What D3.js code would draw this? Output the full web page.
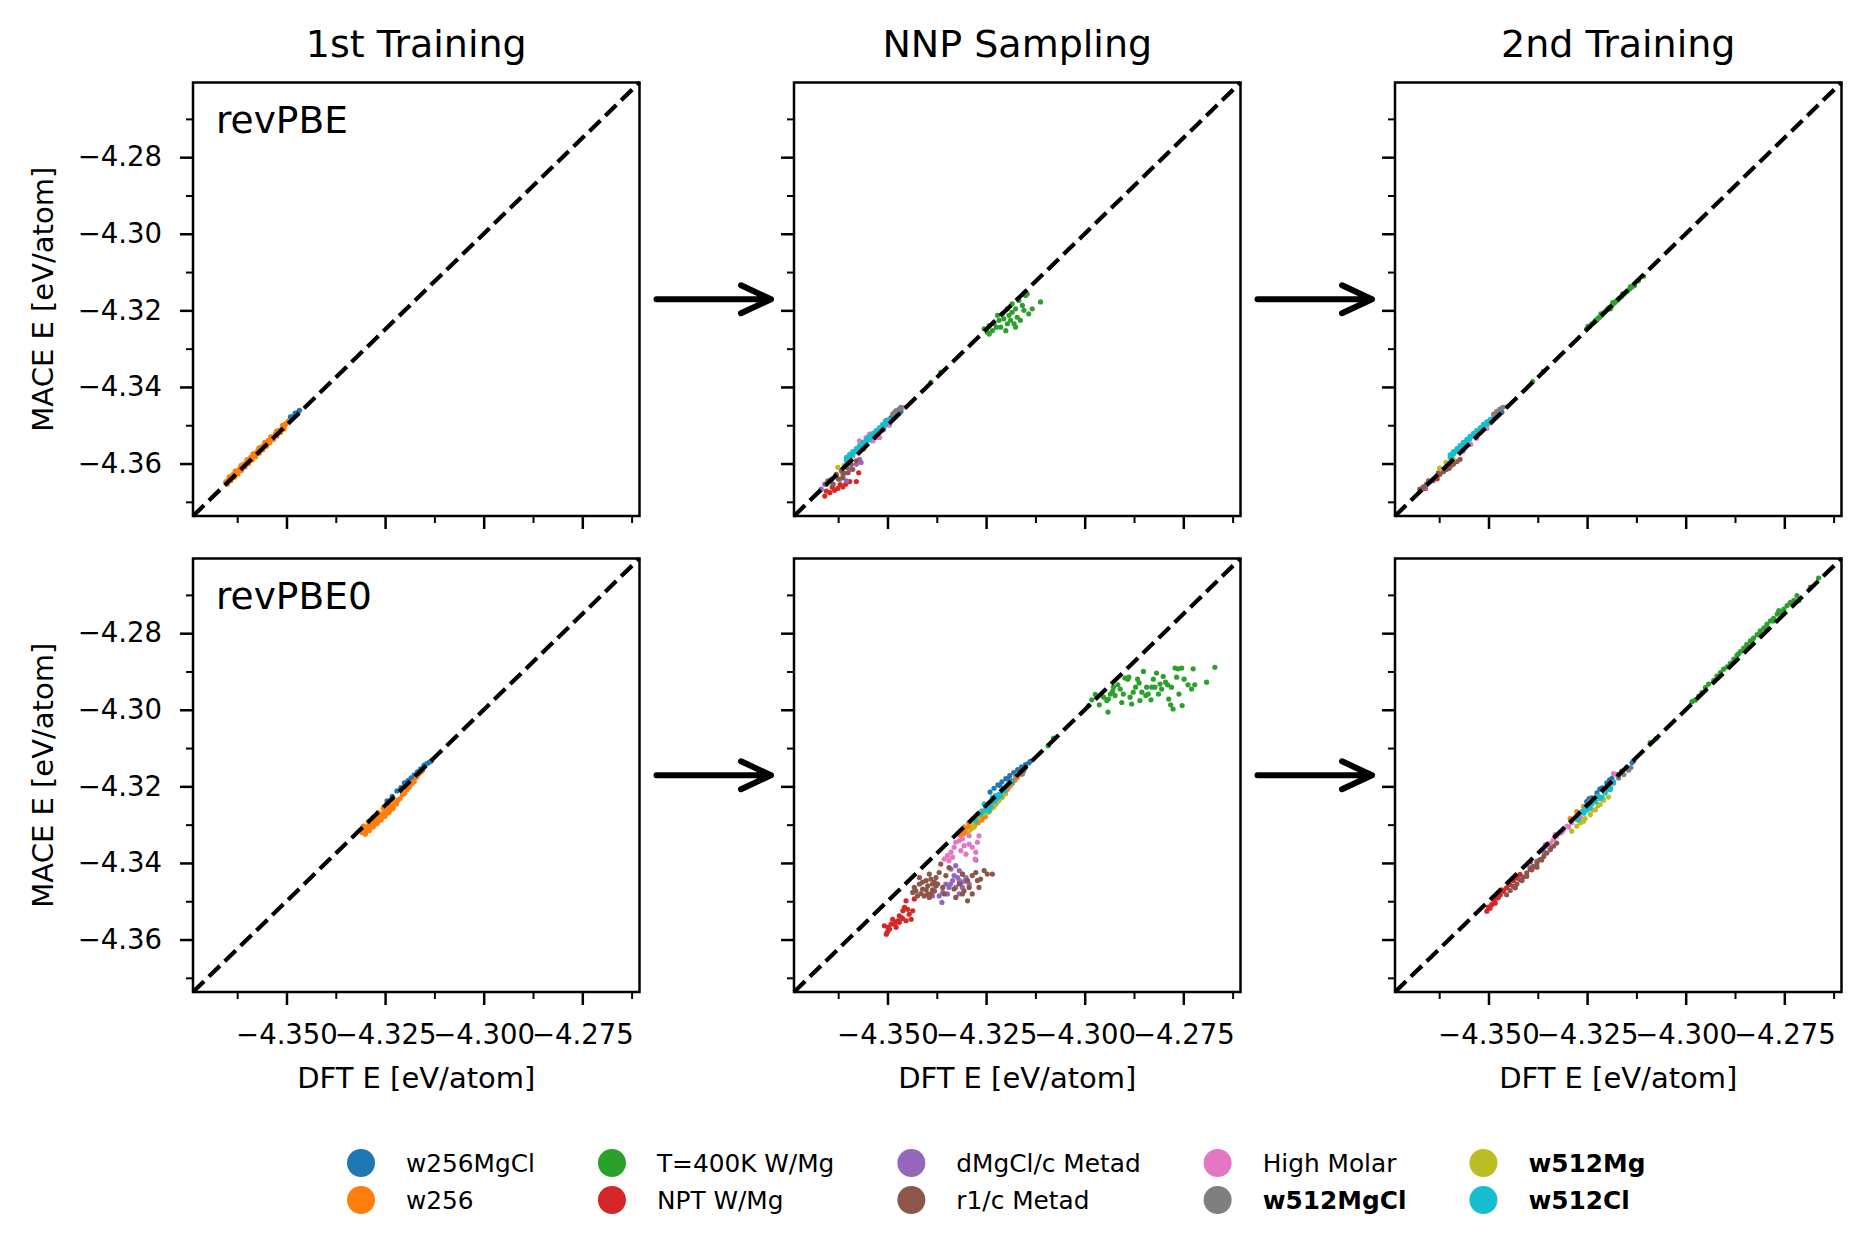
<!DOCTYPE html>
<html>
<head>
<meta charset="utf-8">
<script src="https://cdn.jsdelivr.net/npm/d3@7"></script>
<style>
  body { margin: 0; background: #fff; }
  text { font-family: "DejaVu Sans", sans-serif; fill: #000; }
</style>
</head>
<body>
<svg id="fig" width="1870" height="1257"></svg>
<script>
// axis limits / ticks (same on x and y for every panel)
const lim = [-4.3737, -4.2605]
const yTicks = [-4.36, -4.34, -4.32, -4.30, -4.28]
const yMinor = [-4.37, -4.35, -4.33, -4.31, -4.29, -4.27]
const xTicks = [-4.350, -4.325, -4.300, -4.275]
const xMinor = [-4.3625, -4.3375, -4.3125, -4.2875, -4.2625]

const colTitles = ['1st Training', 'NNP Sampling', '2nd Training']
const rowLabels = ['revPBE', 'revPBE0']
const xLabel = 'DFT E [eV/atom]'
const yLabel = 'MACE E [eV/atom]'

const seriesNames = ['w256MgCl', 'w256', 'T=400K W/Mg', 'NPT W/Mg', 'dMgCl/c Metad', 'r1/c Metad', 'High Molar', 'w512MgCl', 'w512Mg', 'w512Cl']
const seriesColors = ['#1f77b4', '#ff7f0e', '#2ca02c', '#d62728', '#9467bd', '#8c564b', '#e377c2', '#7f7f7f', '#bcbd22', '#17becf']
const seriesBold = [false, false, false, false, false, false, false, true, true, true]

// ---- revPBE, 1st training ----
const pbe1Blue = [[-4.3600,-4.3598],[-4.3580,-4.3577],[-4.3560,-4.3556],[-4.3540,-4.3536],[-4.3520,-4.3515],[-4.3505,-4.3499],[-4.3495,-4.3489],[-4.3488,-4.3481],[-4.3482,-4.3476],[-4.3476,-4.3471],[-4.3470,-4.3465],[-4.3467,-4.3461],[-4.3490,-4.3478],[-4.3478,-4.3468]]
const pbe1Orange = [[-4.3654,-4.3648],[-4.3648,-4.3644],[-4.3645,-4.3637],[-4.3640,-4.3636],[-4.3636,-4.3629],[-4.3632,-4.3628],[-4.3627,-4.3620],[-4.3623,-4.3619],[-4.3618,-4.3611],[-4.3614,-4.3610],[-4.3609,-4.3602],[-4.3605,-4.3601],[-4.3600,-4.3593],[-4.3596,-4.3593],[-4.3591,-4.3584],[-4.3587,-4.3584],[-4.3582,-4.3575],[-4.3578,-4.3575],[-4.3573,-4.3566],[-4.3569,-4.3566],[-4.3564,-4.3557],[-4.3560,-4.3557],[-4.3555,-4.3548],[-4.3551,-4.3548],[-4.3546,-4.3540],[-4.3542,-4.3539],[-4.3537,-4.3531],[-4.3533,-4.3530],[-4.3528,-4.3522],[-4.3524,-4.3521],[-4.3519,-4.3514],[-4.3515,-4.3512],[-4.3510,-4.3505],[-4.3506,-4.3503],[-4.3501,-4.3496],[-4.3496,-4.3490],
  [-4.3650,-4.3654],[-4.3641,-4.3645],[-4.3632,-4.3636],[-4.3623,-4.3627],[-4.3614,-4.3618],[-4.3605,-4.3609],[-4.3596,-4.3600],[-4.3587,-4.3591],[-4.3578,-4.3582],[-4.3569,-4.3573],[-4.3560,-4.3564],[-4.3551,-4.3555],[-4.3542,-4.3546],[-4.3533,-4.3537],[-4.3524,-4.3528],[-4.3515,-4.3519],[-4.3506,-4.3510],
  [-4.3645,-4.3635],[-4.3630,-4.3620],[-4.3615,-4.3605],[-4.3600,-4.3590],[-4.3585,-4.3575],[-4.3570,-4.3560],[-4.3555,-4.3545],[-4.3540,-4.3530],[-4.3525,-4.3515],[-4.3510,-4.3500]]

// ---- revPBE0, 1st training ----
const pbe01Blue = [[-4.3245,-4.3238],[-4.3232,-4.3226],[-4.3220,-4.3212],[-4.3210,-4.3203],[-4.3201,-4.3191],[-4.3192,-4.3185],[-4.3184,-4.3178],[-4.3176,-4.3170],[-4.3168,-4.3162],[-4.3160,-4.3154],[-4.3152,-4.3146],[-4.3149,-4.3144],[-4.3143,-4.3140],[-4.3138,-4.3137],[-4.3133,-4.3134],[-4.3196,-4.3194],[-4.3180,-4.3181]]
const pbe01Orange = [[-4.3308,-4.3321],[-4.3304,-4.3313],[-4.3300,-4.3320],[-4.3297,-4.3306],[-4.3293,-4.3313],[-4.3289,-4.3300],[-4.3285,-4.3307],[-4.3281,-4.3293],[-4.3277,-4.3300],[-4.3273,-4.3286],[-4.3269,-4.3293],[-4.3265,-4.3279],[-4.3261,-4.3286],[-4.3257,-4.3272],[-4.3253,-4.3278],[-4.3249,-4.3265],[-4.3245,-4.3270],[-4.3241,-4.3258],[-4.3237,-4.3262],[-4.3233,-4.3250],[-4.3229,-4.3254],[-4.3225,-4.3243],[-4.3221,-4.3246],[-4.3217,-4.3236],[-4.3212,-4.3232],[-4.3206,-4.3222],[-4.3200,-4.3218],[-4.3194,-4.3208],[-4.3188,-4.3202],[-4.3182,-4.3193],[-4.3176,-4.3187],[-4.3170,-4.3176],[-4.3164,-4.3168],[-4.3158,-4.3162],[-4.3155,-4.3158],
  [-4.3300,-4.3325],[-4.3290,-4.3316],[-4.3280,-4.3306],[-4.3270,-4.3297],[-4.3260,-4.3288],[-4.3250,-4.3278],[-4.3240,-4.3268],[-4.3230,-4.3258],
  [-4.3305,-4.3304],[-4.3292,-4.3292],[-4.3280,-4.3281],[-4.3268,-4.3268],[-4.3255,-4.3257],[-4.3243,-4.3245],[-4.3230,-4.3236]]

// ---- revPBE, NNP sampling ----
const nnpPbeBlue = [[-4.3504,-4.3488],[-4.3491,-4.3480],[-4.3482,-4.3475],[-4.3474,-4.3469],[-4.3466,-4.3464],[-4.3470,-4.3460]]
const nnpPbeOrange = [[-4.3508,-4.3504],[-4.3499,-4.3497],[-4.3530,-4.3528],[-4.3560,-4.3562]]
const nnpPbeGreen = [[-4.3255,-4.3248],[-4.3247,-4.3257],[-4.3242,-4.3240],[-4.3234,-4.3253],[-4.3230,-4.3235],[-4.3224,-4.3244],[-4.3217,-4.3226],[-4.3213,-4.3244],[-4.3205,-4.3222],[-4.3200,-4.3253],[-4.3196,-4.3235],[-4.3192,-4.3213],[-4.3188,-4.3226],[-4.3184,-4.3205],[-4.3179,-4.3235],[-4.3175,-4.3196],[-4.3171,-4.3218],[-4.3167,-4.3174],[-4.3163,-4.3226],[-4.3158,-4.3187],[-4.3154,-4.3200],[-4.3150,-4.3161],[-4.3146,-4.3157],[-4.3142,-4.3209],[-4.3133,-4.3196],[-4.3112,-4.3178],[-4.3209,-4.3209],[-4.3184,-4.3183],[-4.3221,-4.3213],[-4.3196,-4.3196],[-4.3242,-4.3262],[-4.3175,-4.3244],[-4.3390,-4.3388],[-4.3365,-4.3362]]
const nnpPbeRed = [[-4.3659,-4.3685],[-4.3655,-4.3672],[-4.3646,-4.3676],[-4.3634,-4.3670],[-4.3626,-4.3665],[-4.3613,-4.3661],[-4.3606,-4.3654],[-4.3596,-4.3647],[-4.3579,-4.3647],[-4.3573,-4.3624],[-4.3640,-4.3662],[-4.3620,-4.3655]]
const nnpPbePurple = [[-4.3668,-4.3667],[-4.3659,-4.3654],[-4.3646,-4.3645],[-4.3630,-4.3632],[-4.3613,-4.3628],[-4.3596,-4.3615],[-4.3579,-4.3602],[-4.3567,-4.3597],[-4.3604,-4.3645],[-4.3621,-4.3641],[-4.3571,-4.3589]]
const nnpPbeBrown = [[-4.3655,-4.3654],[-4.3642,-4.3641],[-4.3630,-4.3628],[-4.3617,-4.3619],[-4.3604,-4.3610],[-4.3592,-4.3602],[-4.3579,-4.3593],[-4.3638,-4.3654],[-4.3613,-4.3637],[-4.3600,-4.3624],[-4.3588,-4.3615],[-4.3651,-4.3645],[-4.3625,-4.3640],[-4.3610,-4.3625]]
const nnpPbePink = [[-4.3571,-4.3541],[-4.3562,-4.3549],[-4.3554,-4.3532],[-4.3546,-4.3523],[-4.3537,-4.3541],[-4.3529,-4.3532],[-4.3520,-4.3532],[-4.3457,-4.3453],[-4.3588,-4.3580],[-4.3600,-4.3590],[-4.3510,-4.3512],[-4.3495,-4.3500]]
const nnpPbeGray = [[-4.3487,-4.3471],[-4.3482,-4.3466],[-4.3478,-4.3462],[-4.3470,-4.3458],[-4.3466,-4.3453]]
const nnpPbeOlive = [[-4.3626,-4.3610],[-4.3600,-4.3589],[-4.3592,-4.3580],[-4.3610,-4.3605]]
const nnpPbeCyan = [[-4.3604,-4.3584],[-4.3604,-4.3593],[-4.3596,-4.3576],[-4.3596,-4.3585],[-4.3588,-4.3569],[-4.3588,-4.3577],[-4.3579,-4.3561],[-4.3579,-4.3569],[-4.3571,-4.3553],[-4.3571,-4.3562],[-4.3562,-4.3545],[-4.3562,-4.3554],[-4.3554,-4.3537],[-4.3554,-4.3546],[-4.3546,-4.3529],[-4.3546,-4.3538],[-4.3537,-4.3521],[-4.3537,-4.3530],[-4.3529,-4.3514],[-4.3529,-4.3522],[-4.3520,-4.3506],[-4.3520,-4.3514],[-4.3512,-4.3498],[-4.3512,-4.3507],[-4.3504,-4.3490],[-4.3504,-4.3499],[-4.3497,-4.3485]]

// ---- revPBE, 2nd training ----
const secPbeBlue = [[-4.3492,-4.3484],[-4.3483,-4.3478],[-4.3475,-4.3471],[-4.3466,-4.3466],[-4.3500,-4.3494]]
const secPbeOrange = [[-4.3496,-4.3493],[-4.3520,-4.3519]]
const secPbeGreen = [[-4.3251,-4.3248],[-4.3244,-4.3242],[-4.3238,-4.3235],[-4.3232,-4.3231],[-4.3225,-4.3225],[-4.3218,-4.3218],[-4.3213,-4.3212],[-4.3207,-4.3205],[-4.3200,-4.3199],[-4.3193,-4.3193],[-4.3187,-4.3187],[-4.3181,-4.3181],[-4.3174,-4.3174],[-4.3168,-4.3168],[-4.3162,-4.3163],[-4.3156,-4.3157],[-4.3149,-4.3151],[-4.3142,-4.3144],[-4.3136,-4.3139],[-4.3130,-4.3135],[-4.3107,-4.3111],[-4.3229,-4.3226],[-4.3191,-4.3196],[-4.3170,-4.3170],[-4.3196,-4.3194],[-4.3222,-4.3220],[-4.3178,-4.3177],[-4.3140,-4.3138],[-4.3120,-4.3123],[-4.3248,-4.3242],[-4.3215,-4.3209],[-4.3185,-4.3180],[-4.3160,-4.3157],[-4.3388,-4.3386],[-4.3361,-4.3359]]
const secPbeRed = [[-4.3630,-4.3640],[-4.3600,-4.3612],[-4.3660,-4.3665]]
const secPbePurple = [[-4.3669,-4.3667],[-4.3661,-4.3663],[-4.3640,-4.3645]]
const secPbeBrown = [[-4.3674,-4.3667],[-4.3665,-4.3661],[-4.3657,-4.3654],[-4.3648,-4.3647],[-4.3640,-4.3641],[-4.3631,-4.3634],[-4.3623,-4.3628],[-4.3614,-4.3621],[-4.3606,-4.3615],[-4.3597,-4.3608],[-4.3589,-4.3602],[-4.3580,-4.3595],[-4.3572,-4.3589],[-4.3652,-4.3645],[-4.3627,-4.3624]]
const secPbePink = [[-4.3454,-4.3451],[-4.3564,-4.3567],[-4.3530,-4.3534],[-4.3504,-4.3508],[-4.3545,-4.3550]]
const secPbeGray = [[-4.3487,-4.3471],[-4.3479,-4.3464],[-4.3471,-4.3458],[-4.3464,-4.3453]]
const secPbeOlive = [[-4.3624,-4.3612],[-4.3608,-4.3597],[-4.3589,-4.3589]]
const secPbeCyan = [[-4.3597,-4.3577],[-4.3597,-4.3584],[-4.3589,-4.3569],[-4.3589,-4.3576],[-4.3580,-4.3561],[-4.3580,-4.3568],[-4.3572,-4.3553],[-4.3572,-4.3560],[-4.3564,-4.3545],[-4.3564,-4.3552],[-4.3555,-4.3537],[-4.3555,-4.3544],[-4.3547,-4.3529],[-4.3547,-4.3536],[-4.3538,-4.3521],[-4.3538,-4.3528],[-4.3530,-4.3514],[-4.3530,-4.3521],[-4.3521,-4.3506],[-4.3521,-4.3513],[-4.3513,-4.3498],[-4.3513,-4.3505],[-4.3504,-4.3491],[-4.3504,-4.3498],[-4.3496,-4.3485]]

// ---- revPBE0, NNP sampling ----
const nnpPbe0Blue = [[-4.3240,-4.3215],[-4.3230,-4.3205],[-4.3220,-4.3196],[-4.3210,-4.3188],[-4.3200,-4.3180],[-4.3190,-4.3172],[-4.3180,-4.3164],[-4.3170,-4.3156],[-4.3160,-4.3149],[-4.3150,-4.3143],[-4.3142,-4.3139],[-4.3138,-4.3135],[-4.3215,-4.3198],[-4.3195,-4.3181]]
const nnpPbe0Orange = [[-4.3315,-4.3328],[-4.3310,-4.3318],[-4.3306,-4.3324],[-4.3301,-4.3311],[-4.3297,-4.3318],[-4.3292,-4.3304],[-4.3288,-4.3311],[-4.3283,-4.3297],[-4.3279,-4.3303],[-4.3274,-4.3290],[-4.3270,-4.3295],[-4.3265,-4.3283],[-4.3261,-4.3288],[-4.3256,-4.3276],[-4.3252,-4.3280],[-4.3247,-4.3268],[-4.3242,-4.3266],[-4.3237,-4.3258],[-4.3231,-4.3253],[-4.3225,-4.3246],[-4.3219,-4.3238],[-4.3213,-4.3230],[-4.3207,-4.3222],[-4.3201,-4.3214],[-4.3195,-4.3207],[-4.3189,-4.3199],[-4.3183,-4.3192],[-4.3177,-4.3184],[-4.3171,-4.3177],[-4.3165,-4.3169],[-4.3158,-4.3160],
  [-4.3305,-4.3306],[-4.3294,-4.3296],[-4.3283,-4.3285],[-4.3272,-4.3274],[-4.3261,-4.3264],[-4.3250,-4.3253],[-4.3239,-4.3243],[-4.3228,-4.3232],[-4.3217,-4.3222],[-4.3206,-4.3211],[-4.3195,-4.3200]]
const nnpPbe0Green = [[-4.2990,-4.2989],[-4.2982,-4.2974],[-4.2973,-4.2960],[-4.2963,-4.2987],[-4.2952,-4.2967],[-4.2944,-4.2976],[-4.2941,-4.3006],[-4.2935,-4.2959],[-4.2929,-4.2952],[-4.2923,-4.2963],[-4.2916,-4.2935],[-4.2910,-4.2946],[-4.2906,-4.2981],[-4.2902,-4.2959],[-4.2898,-4.2917],[-4.2891,-4.2920],[-4.2885,-4.2967],[-4.2881,-4.2985],[-4.2877,-4.2954],[-4.2871,-4.2941],[-4.2866,-4.2920],[-4.2862,-4.2930],[-4.2860,-4.2976],[-4.2855,-4.2954],[-4.2851,-4.2900],[-4.2845,-4.2963],[-4.2843,-4.2941],[-4.2839,-4.2959],[-4.2832,-4.2974],[-4.2826,-4.2920],[-4.2822,-4.2941],[-4.2818,-4.2904],[-4.2813,-4.2959],[-4.2809,-4.2933],[-4.2805,-4.2946],[-4.2801,-4.2913],[-4.2795,-4.2928],[-4.2790,-4.2935],[-4.2787,-4.2972],[-4.2782,-4.2987],[-4.2776,-4.2998],[-4.2771,-4.2891],[-4.2767,-4.2915],[-4.2763,-4.2893],[-4.2761,-4.2959],[-4.2754,-4.2891],[-4.2753,-4.2989],[-4.2748,-4.2920],[-4.2738,-4.2935],[-4.2729,-4.2946],[-4.2725,-4.2893],[-4.2721,-4.2935],[-4.2691,-4.2928],[-4.2670,-4.2889],[-4.2940,-4.2972],[-4.2927,-4.2941],[-4.2888,-4.2915],[-4.2830,-4.2941],[-4.2780,-4.2941],[-4.3093,-4.3094],[-4.3079,-4.3074]]
const nnpPbe0Red = [[-4.3503,-4.3586],[-4.3499,-4.3568],[-4.3508,-4.3564],[-4.3491,-4.3560],[-4.3487,-4.3547],[-4.3478,-4.3568],[-4.3474,-4.3551],[-4.3470,-4.3538],[-4.3466,-4.3542],[-4.3461,-4.3525],[-4.3457,-4.3516],[-4.3453,-4.3499],[-4.3449,-4.3521],[-4.3445,-4.3534],[-4.3440,-4.3547],[-4.3436,-4.3525],[-4.3453,-4.3551],[-4.3482,-4.3560],[-4.3495,-4.3573],[-4.3470,-4.3555],[-4.3432,-4.3494],[-4.3500,-4.3580],[-4.3480,-4.3555],[-4.3462,-4.3545]]
const nnpPbe0Purple = [[-4.3339,-4.3416],[-4.3327,-4.3407],[-4.3318,-4.3420],[-4.3310,-4.3429],[-4.3301,-4.3438],[-4.3318,-4.3446],[-4.3335,-4.3446],[-4.3344,-4.3464],[-4.3327,-4.3464],[-4.3310,-4.3464],[-4.3348,-4.3481],[-4.3360,-4.3477],[-4.3369,-4.3486],[-4.3386,-4.3486],[-4.3362,-4.3503],[-4.3318,-4.3481],[-4.3293,-4.3455],[-4.3276,-4.3392],[-4.3331,-4.3433],[-4.3352,-4.3455],[-4.3322,-4.3438],[-4.3340,-4.3455],[-4.3314,-4.3452],[-4.3305,-4.3448]]
const nnpPbe0Brown = [[-4.3436,-4.3477],[-4.3428,-4.3473],[-4.3419,-4.3455],[-4.3411,-4.3468],[-4.3402,-4.3446],[-4.3398,-4.3481],[-4.3394,-4.3429],[-4.3386,-4.3455],[-4.3381,-4.3473],[-4.3377,-4.3438],[-4.3369,-4.3425],[-4.3365,-4.3403],[-4.3360,-4.3464],[-4.3352,-4.3433],[-4.3344,-4.3412],[-4.3331,-4.3468],[-4.3318,-4.3455],[-4.3306,-4.3473],[-4.3297,-4.3499],[-4.3293,-4.3464],[-4.3285,-4.3433],[-4.3276,-4.3425],[-4.3268,-4.3464],[-4.3264,-4.3442],[-4.3255,-4.3420],[-4.3247,-4.3429],[-4.3234,-4.3429],[-4.3327,-4.3490],[-4.3310,-4.3481],[-4.3285,-4.3481],[-4.3407,-4.3486],[-4.3390,-4.3481],[-4.3419,-4.3438],[-4.3373,-4.3455],[-4.3356,-4.3481],[-4.3310,-4.3429],[-4.3297,-4.3446],[-4.3272,-4.3446],[-4.3411,-4.3450],[-4.3398,-4.3460],[-4.3390,-4.3442],[-4.3381,-4.3450],[-4.3402,-4.3470],[-4.3415,-4.3480],[-4.3394,-4.3490],[-4.3386,-4.3470],[-4.3377,-4.3460],[-4.3424,-4.3486],[-4.3432,-4.3464]]
const nnpPbe0Pink = [[-4.3356,-4.3390],[-4.3348,-4.3381],[-4.3339,-4.3372],[-4.3331,-4.3359],[-4.3327,-4.3346],[-4.3318,-4.3342],[-4.3314,-4.3368],[-4.3306,-4.3355],[-4.3301,-4.3377],[-4.3293,-4.3351],[-4.3285,-4.3359],[-4.3276,-4.3372],[-4.3272,-4.3346],[-4.3268,-4.3329],[-4.3293,-4.3329],[-4.3310,-4.3337],[-4.3335,-4.3385],[-4.3344,-4.3394],[-4.3278,-4.3390]]
const nnpPbe0Gray = [[-4.3163,-4.3163],[-4.3154,-4.3159],[-4.3150,-4.3150],[-4.3158,-4.3168],[-4.3175,-4.3172],[-4.3184,-4.3185]]
const nnpPbe0Olive = [[-4.3293,-4.3316],[-4.3285,-4.3298],[-4.3272,-4.3285],[-4.3259,-4.3272],[-4.3242,-4.3263],[-4.3226,-4.3246],[-4.3209,-4.3229],[-4.3201,-4.3220],[-4.3234,-4.3255],[-4.3268,-4.3281],[-4.3281,-4.3307],[-4.3250,-4.3270],[-4.3217,-4.3236]]
const nnpPbe0Cyan = [[-4.3276,-4.3290],[-4.3264,-4.3272],[-4.3251,-4.3255],[-4.3242,-4.3246],[-4.3234,-4.3237],[-4.3226,-4.3224],[-4.3217,-4.3220],[-4.3209,-4.3207],[-4.3196,-4.3198],[-4.3184,-4.3190],[-4.3234,-4.3229],[-4.3242,-4.3263],[-4.3255,-4.3246],[-4.3250,-4.3262],[-4.3222,-4.3232],[-4.3238,-4.3252],[-4.3228,-4.3240],[-4.3213,-4.3226],[-4.3260,-4.3266],[-4.3202,-4.3212]]

// ---- revPBE0, 2nd training ----
const secPbe0Blue = [[-4.3251,-4.3240],[-4.3238,-4.3230],[-4.3225,-4.3217],[-4.3212,-4.3204],[-4.3200,-4.3191],[-4.3187,-4.3179],[-4.3174,-4.3169],[-4.3162,-4.3160],[-4.3149,-4.3150],[-4.3136,-4.3138],[-4.3132,-4.3134],[-4.3245,-4.3232],[-4.3218,-4.3207],[-4.3193,-4.3183]]
const secPbe0Orange = [[-4.3293,-4.3284],[-4.3276,-4.3266],[-4.3259,-4.3252],[-4.3242,-4.3239],[-4.3225,-4.3226],[-4.3204,-4.3208],[-4.3183,-4.3191],[-4.3170,-4.3169]]
const secPbe0Green = [[-4.2984,-4.2979],[-4.2976,-4.2975],[-4.2967,-4.2964],[-4.2959,-4.2955],[-4.2950,-4.2942],[-4.2942,-4.2933],[-4.2929,-4.2923],[-4.2921,-4.2912],[-4.2912,-4.2903],[-4.2904,-4.2894],[-4.2895,-4.2888],[-4.2887,-4.2879],[-4.2878,-4.2868],[-4.2870,-4.2857],[-4.2861,-4.2848],[-4.2853,-4.2839],[-4.2845,-4.2829],[-4.2836,-4.2820],[-4.2828,-4.2813],[-4.2819,-4.2804],[-4.2811,-4.2794],[-4.2802,-4.2787],[-4.2794,-4.2776],[-4.2785,-4.2768],[-4.2777,-4.2761],[-4.2768,-4.2750],[-4.2764,-4.2741],[-4.2760,-4.2746],[-4.2751,-4.2737],[-4.2743,-4.2728],[-4.2735,-4.2720],[-4.2726,-4.2714],[-4.2718,-4.2702],[-4.2713,-4.2715],[-4.2684,-4.2680],[-4.2663,-4.2656],[-4.2878,-4.2874],[-4.2845,-4.2836],[-4.2811,-4.2801],[-4.2777,-4.2768],[-4.2866,-4.2854],[-4.2832,-4.2823],[-4.2798,-4.2786],[-4.2756,-4.2744],[-4.3090,-4.3086],[-4.3075,-4.3075]]
const secPbe0Red = [[-4.3504,-4.3526],[-4.3496,-4.3518],[-4.3492,-4.3509],[-4.3483,-4.3505],[-4.3479,-4.3492],[-4.3470,-4.3483],[-4.3462,-4.3474],[-4.3454,-4.3465],[-4.3445,-4.3457],[-4.3437,-4.3446],[-4.3428,-4.3439],[-4.3420,-4.3430],[-4.3394,-4.3397],[-4.3487,-4.3496],[-4.3466,-4.3470],[-4.3500,-4.3515],[-4.3475,-4.3490]]
const secPbe0Purple = [[-4.3360,-4.3370],[-4.3343,-4.3357],[-4.3377,-4.3395],[-4.3395,-4.3412]]
const secPbe0Brown = [[-4.3454,-4.3483],[-4.3445,-4.3472],[-4.3437,-4.3461],[-4.3428,-4.3455],[-4.3420,-4.3444],[-4.3411,-4.3437],[-4.3403,-4.3426],[-4.3394,-4.3417],[-4.3386,-4.3409],[-4.3377,-4.3400],[-4.3369,-4.3391],[-4.3360,-4.3383],[-4.3352,-4.3374],[-4.3343,-4.3365],[-4.3335,-4.3356],[-4.3327,-4.3348],[-4.3348,-4.3356],[-4.3377,-4.3411],[-4.3403,-4.3435],[-4.3432,-4.3465],[-4.3415,-4.3446],[-4.3390,-4.3418],[-4.3365,-4.3392]]
const secPbe0Pink = [[-4.3352,-4.3356],[-4.3343,-4.3348],[-4.3335,-4.3339],[-4.3327,-4.3330],[-4.3318,-4.3322],[-4.3310,-4.3313],[-4.3301,-4.3304],[-4.3289,-4.3295],[-4.3276,-4.3287],[-4.3267,-4.3281],[-4.3183,-4.3167],[-4.3356,-4.3352],[-4.3331,-4.3326],[-4.3314,-4.3320],[-4.3297,-4.3306]]
const secPbe0Gray = [[-4.3183,-4.3188],[-4.3170,-4.3178],[-4.3157,-4.3169],[-4.3145,-4.3158],[-4.3139,-4.3151]]
const secPbe0Olive = [[-4.3289,-4.3317],[-4.3276,-4.3304],[-4.3267,-4.3295],[-4.3255,-4.3284],[-4.3242,-4.3274],[-4.3229,-4.3261],[-4.3217,-4.3247],[-4.3196,-4.3228],[-4.3259,-4.3291],[-4.3236,-4.3262],[-4.3222,-4.3250],[-4.3208,-4.3236]]
const secPbe0Cyan = [[-4.3272,-4.3287],[-4.3263,-4.3265],[-4.3255,-4.3256],[-4.3246,-4.3247],[-4.3234,-4.3237],[-4.3221,-4.3226],[-4.3212,-4.3228],[-4.3204,-4.3217],[-4.3191,-4.3204],[-4.3183,-4.3191],[-4.3191,-4.3208],[-4.3242,-4.3256],[-4.3228,-4.3240],[-4.3250,-4.3262],[-4.3238,-4.3246],[-4.3217,-4.3232],[-4.3200,-4.3210],[-4.3258,-4.3270]]

const panels = [
  { row: 0, col: 0, series: [pbe1Blue, pbe1Orange, [], [], [], [], [], [], [], []] },
  { row: 0, col: 1, series: [nnpPbeBlue, nnpPbeOrange, nnpPbeGreen, nnpPbeRed, nnpPbePurple, nnpPbeBrown, nnpPbePink, nnpPbeGray, nnpPbeOlive, nnpPbeCyan] },
  { row: 0, col: 2, series: [secPbeBlue, secPbeOrange, secPbeGreen, secPbeRed, secPbePurple, secPbeBrown, secPbePink, secPbeGray, secPbeOlive, secPbeCyan] },
  { row: 1, col: 0, series: [pbe01Blue, pbe01Orange, [], [], [], [], [], [], [], []] },
  { row: 1, col: 1, series: [nnpPbe0Blue, nnpPbe0Orange, nnpPbe0Green, nnpPbe0Red, nnpPbe0Purple, nnpPbe0Brown, nnpPbe0Pink, nnpPbe0Gray, nnpPbe0Olive, nnpPbe0Cyan] },
  { row: 1, col: 2, series: [secPbe0Blue, secPbe0Orange, secPbe0Green, secPbe0Red, secPbe0Purple, secPbe0Brown, secPbe0Pink, secPbe0Gray, secPbe0Olive, secPbe0Cyan] }
]

// layout
const colX = [193, 794, 1395]
const rowY = [82.5, 558.5]
const pw = 446.5
const ph = 433.5

const svg = d3.select('#fig')
svg.append('rect').attr('width', 1870).attr('height', 1257).attr('fill', '#fff')

const fmtY = d3.format('.2f')
const fmtX = d3.format('.3f')

panels.forEach((p) => {
  const g = svg.append('g')
    .attr('transform', 'translate(' + colX[p.col] + ',' + rowY[p.row] + ')')

  const x = d3.scaleLinear().domain(lim).range([0, pw])
  const y = d3.scaleLinear().domain(lim).range([ph, 0])

  p.series.forEach((pts, i) => {
    g.append('g')
      .selectAll('circle')
      .data(pts)
      .join('circle')
      .attr('cx', (d) => x(d[0]))
      .attr('cy', (d) => y(d[1]))
      .attr('r', 2.6)
      .attr('fill', seriesColors[i])
  })

  // y = x reference
  g.append('line')
    .attr('x1', x(lim[0])).attr('y1', y(lim[0]))
    .attr('x2', x(lim[1])).attr('y2', y(lim[1]))
    .attr('stroke', '#000')
    .attr('stroke-width', 4.2)
    .attr('stroke-dasharray', '15.4,6.7')

  const yAxis = g.append('g')
    .call(d3.axisLeft(y).tickValues(yTicks).tickSize(13).tickPadding(18)
      .tickFormat(p.col === 0 ? fmtY : () => ''))
  const yAxisMinor = g.append('g')
    .call(d3.axisLeft(y).tickValues(yMinor).tickSize(7).tickFormat(() => ''))
  const xAxis = g.append('g')
    .attr('transform', 'translate(0,' + ph + ')')
    .call(d3.axisBottom(x).tickValues(xTicks).tickSize(13).tickPadding(19)
      .tickFormat(p.row === 1 ? fmtX : () => ''))
  const xAxisMinor = g.append('g')
    .attr('transform', 'translate(0,' + ph + ')')
    .call(d3.axisBottom(x).tickValues(xMinor).tickSize(7).tickFormat(() => ''))

  ;[yAxis, xAxis].forEach((a) => {
    a.select('.domain').remove()
    a.selectAll('line').attr('stroke-width', 2.5)
    a.selectAll('text').attr('font-size', 27.5).attr('font-family', 'DejaVu Sans')
  })
  ;[yAxisMinor, xAxisMinor].forEach((a) => {
    a.select('.domain').remove()
    a.selectAll('line').attr('stroke-width', 2)
  })

  g.append('rect')
    .attr('width', pw).attr('height', ph)
    .attr('fill', 'none')
    .attr('stroke', '#000')
    .attr('stroke-width', 2.5)

  if (p.row === 0) {
    svg.append('text')
      .attr('x', colX[p.col] + pw / 2)
      .attr('y', 57)
      .attr('text-anchor', 'middle')
      .attr('font-size', 38)
      .text(colTitles[p.col])
  }
  if (p.row === 1) {
    svg.append('text')
      .attr('x', colX[p.col] + pw / 2)
      .attr('y', 1088)
      .attr('text-anchor', 'middle')
      .attr('font-size', 29)
      .text(xLabel)
  }
  if (p.col === 0) {
    g.append('text')
      .attr('x', 23)
      .attr('y', 50)
      .attr('font-size', 37.5)
      .text(rowLabels[p.row])
    svg.append('text')
      .attr('transform', 'translate(53,' + (rowY[p.row] + ph / 2) + ') rotate(-90)')
      .attr('text-anchor', 'middle')
      .attr('font-size', 29)
      .text(yLabel)
  }
})

// arrows between columns
rowY.forEach((ry) => {
  const ay = ry + ph / 2
  for (let c = 0; c < 2; c++) {
    const x0 = colX[c] + pw + 17
    const x1 = colX[c + 1] - 23
    svg.append('path')
      .attr('d', 'M' + x0 + ',' + ay + 'L' + x1 + ',' + ay +
        'M' + (x1 - 30) + ',' + (ay - 14) + 'L' + x1 + ',' + ay + 'L' + (x1 - 30) + ',' + (ay + 14))
      .attr('fill', 'none')
      .attr('stroke', '#000')
      .attr('stroke-width', 6)
      .attr('stroke-linecap', 'round')
      .attr('stroke-linejoin', 'round')
  }
})

// legend: 5 columns x 2 rows, filled column by column
const legend = svg.append('g')
let lx = 361
for (let c = 0; c < 5; c++) {
  let maxW = 0
  for (let r = 0; r < 2; r++) {
    const i = c * 2 + r
    const ly = 1163 + r * 37
    legend.append('circle')
      .attr('cx', lx).attr('cy', ly).attr('r', 14)
      .attr('fill', seriesColors[i])
    const t = legend.append('text')
      .attr('x', lx + 45).attr('y', ly + 9)
      .attr('font-size', 24.8)
      .attr('font-weight', seriesBold[i] ? 'bold' : 'normal')
      .text(seriesNames[i])
    maxW = Math.max(maxW, t.node().getComputedTextLength())
  }
  lx += 45 + maxW + 77
}
</script>
</body>
</html>
